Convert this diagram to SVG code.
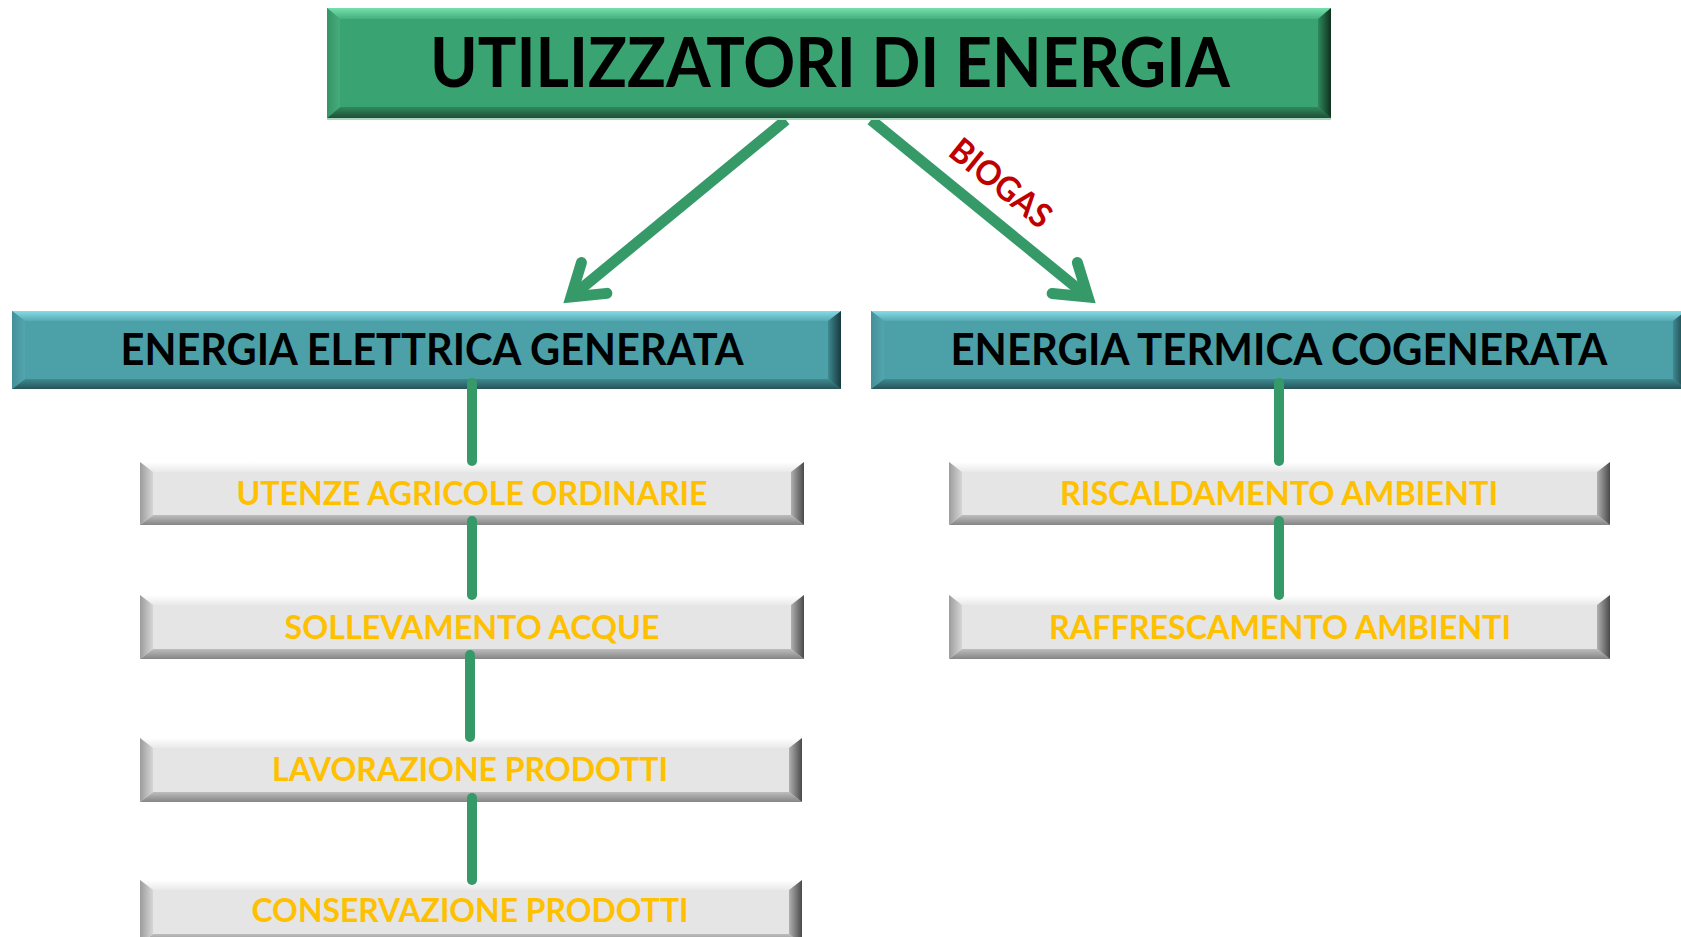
<svg xmlns="http://www.w3.org/2000/svg" width="1681" height="937" viewBox="0 0 1681 937">
<defs>
<style>
text{font-family:Lato,"Open Sans","Liberation Sans",sans-serif;font-weight:700;text-anchor:middle}
.t1{font-size:68px;fill:#000}
.t2{font-size:44px;fill:#000}
.t3{font-size:33px;fill:#FFC000}
.bio{font-size:34px;fill:#C00000}
.gF{fill:#3AA372}.gT{fill:url(#gTop)}.gB{fill:url(#gBot)}.gL{fill:url(#gLeft)}.gR{fill:url(#gRight)}
.bF{fill:#4CA0A8}.bT{fill:url(#bTop)}.bB{fill:url(#bBot)}.bL{fill:url(#bLeft)}.bR{fill:url(#bRight)}
.sF{fill:#E5E5E5}.sT{fill:url(#sTop)}.sB{fill:url(#sBot)}.sL{fill:url(#sLeft)}.sR{fill:url(#sRight)}
.conn{stroke:#359A67;stroke-width:10;stroke-linecap:round;fill:none}
.arrow{stroke:#359A67;stroke-width:11;fill:none;marker-end:url(#ah)}
</style>
<linearGradient id="gTop" x1="0" y1="0" x2="0" y2="1"><stop offset="0" stop-color="#74E0AA"/><stop offset="1" stop-color="#45B07E"/></linearGradient>
<linearGradient id="gBot" x1="0" y1="0" x2="0" y2="1"><stop offset="0" stop-color="#2F8A5E"/><stop offset="1" stop-color="#1F4F37"/></linearGradient>
<linearGradient id="gLeft" x1="0" y1="0" x2="1" y2="0"><stop offset="0" stop-color="#369466"/><stop offset="1" stop-color="#45AC7C"/></linearGradient>
<linearGradient id="gRight" x1="0" y1="0" x2="1" y2="0"><stop offset="0" stop-color="#2E8A5D"/><stop offset="1" stop-color="#10301F"/></linearGradient>
<linearGradient id="bTop" x1="0" y1="0" x2="0" y2="1"><stop offset="0" stop-color="#86DCE6"/><stop offset="1" stop-color="#55AAB3"/></linearGradient>
<linearGradient id="bBot" x1="0" y1="0" x2="0" y2="1"><stop offset="0" stop-color="#3F8A91"/><stop offset="1" stop-color="#25545A"/></linearGradient>
<linearGradient id="bLeft" x1="0" y1="0" x2="1" y2="0"><stop offset="0" stop-color="#44909A"/><stop offset="1" stop-color="#52A6AE"/></linearGradient>
<linearGradient id="bRight" x1="0" y1="0" x2="1" y2="0"><stop offset="0" stop-color="#3F8A91"/><stop offset="1" stop-color="#17393D"/></linearGradient>
<linearGradient id="sTop" x1="0" y1="0" x2="0" y2="1"><stop offset="0" stop-color="#FFFFFF"/><stop offset="1" stop-color="#E9E9E9"/></linearGradient>
<linearGradient id="sBot" x1="0" y1="0" x2="0" y2="1"><stop offset="0" stop-color="#BDBDBD"/><stop offset="1" stop-color="#858585"/></linearGradient>
<linearGradient id="sLeft" x1="0" y1="0" x2="1" y2="0"><stop offset="0" stop-color="#9C9C9C"/><stop offset="1" stop-color="#D6D6D6"/></linearGradient>
<linearGradient id="sRight" x1="0" y1="0" x2="1" y2="0"><stop offset="0" stop-color="#B0B0B0"/><stop offset="1" stop-color="#4A4A4A"/></linearGradient>
<marker id="ah" markerUnits="userSpaceOnUse" viewBox="-40 -30 60 60" markerWidth="60" markerHeight="60" refX="0" refY="0" orient="auto" overflow="visible">
<path d="M-30,-20 L0,0 L-30,20" fill="none" stroke="#359A67" stroke-width="11" stroke-linecap="round" stroke-linejoin="miter"/>
</marker>
</defs>
<rect width="1681" height="937" fill="#FFFFFF"/>

<g id="connectors">
<line class="arrow" x1="786" y1="120" x2="571" y2="297"/>
<line class="arrow" x1="871" y1="120" x2="1088" y2="297"/>
<text class="bio" transform="translate(1001,183) rotate(39)" y="12" textLength="120" lengthAdjust="spacingAndGlyphs">BIOGAS</text>
</g>

<g id="node-utilizzatori">
<rect class="gF" x="327" y="8" width="1004" height="110"/>
<polygon class="gT" points="327,8 1331,8 1318,19 340,19"/>
<polygon class="gB" points="327,118 1331,118 1318,107 340,107"/>
<polygon class="gL" points="327,8 340,19 340,107 327,118"/>
<polygon class="gR" points="1331,8 1318,19 1318,107 1331,118"/>
<line x1="327" y1="119" x2="1331" y2="119" stroke="#A8D9BF" stroke-width="2"/>
<text class="t1" x="830" y="87" textLength="800" lengthAdjust="spacingAndGlyphs">UTILIZZATORI DI ENERGIA</text>
</g>

<g id="node-elettrica">
<rect class="bF" x="12" y="311" width="829" height="78"/>
<polygon class="bT" points="12,311 841,311 828,321 25,321"/>
<polygon class="bB" points="12,389 841,389 828,379 25,379"/>
<polygon class="bL" points="12,311 25,321 25,379 12,389"/>
<polygon class="bR" points="841,311 828,321 828,379 841,389"/>
<text class="t2" x="432" y="365" textLength="623" lengthAdjust="spacingAndGlyphs">ENERGIA ELETTRICA GENERATA</text>
</g>

<g id="node-termica">
<rect class="bF" x="871" y="311" width="815" height="78"/>
<polygon class="bT" points="871,311 1686,311 1673,321 884,321"/>
<polygon class="bB" points="871,389 1686,389 1673,379 884,379"/>
<polygon class="bL" points="871,311 884,321 884,379 871,389"/>
<polygon class="bR" points="1686,311 1673,321 1673,379 1686,389"/>
<text class="t2" x="1279" y="365" textLength="657" lengthAdjust="spacingAndGlyphs">ENERGIA TERMICA COGENERATA</text>
</g>

<g id="node-utenze">
<rect class="sF" x="140" y="462" width="664" height="63"/>
<polygon class="sT" points="140,462 804,462 791,472 153,472"/>
<polygon class="sB" points="140,525 804,525 791,515 153,515"/>
<polygon class="sL" points="140,462 153,472 153,515 140,525"/>
<polygon class="sR" points="804,462 791,472 791,515 804,525"/>
<text class="t3" x="472" y="505" textLength="471" lengthAdjust="spacingAndGlyphs">UTENZE AGRICOLE ORDINARIE</text>
</g>

<g id="node-sollevamento">
<rect class="sF" x="140" y="595" width="664" height="64"/>
<polygon class="sT" points="140,595 804,595 791,605 153,605"/>
<polygon class="sB" points="140,659 804,659 791,649 153,649"/>
<polygon class="sL" points="140,595 153,605 153,649 140,659"/>
<polygon class="sR" points="804,595 791,605 791,649 804,659"/>
<text class="t3" x="472" y="639" textLength="375" lengthAdjust="spacingAndGlyphs">SOLLEVAMENTO ACQUE</text>
</g>

<g id="node-lavorazione">
<rect class="sF" x="140" y="738" width="662" height="64"/>
<polygon class="sT" points="140,738 802,738 789,748 153,748"/>
<polygon class="sB" points="140,802 802,802 789,792 153,792"/>
<polygon class="sL" points="140,738 153,748 153,792 140,802"/>
<polygon class="sR" points="802,738 789,748 789,792 802,802"/>
<text class="t3" x="470" y="781" textLength="396" lengthAdjust="spacingAndGlyphs">LAVORAZIONE PRODOTTI</text>
</g>

<g id="node-conservazione">
<rect class="sF" x="140" y="880" width="662" height="64"/>
<polygon class="sT" points="140,880 802,880 789,890 153,890"/>
<polygon class="sB" points="140,944 802,944 789,934 153,934"/>
<polygon class="sL" points="140,880 153,890 153,934 140,944"/>
<polygon class="sR" points="802,880 789,890 789,934 802,944"/>
<text class="t3" x="470" y="922" textLength="437" lengthAdjust="spacingAndGlyphs">CONSERVAZIONE PRODOTTI</text>
</g>

<g id="node-riscaldamento">
<rect class="sF" x="949" y="462" width="661" height="63"/>
<polygon class="sT" points="949,462 1610,462 1597,472 962,472"/>
<polygon class="sB" points="949,525 1610,525 1597,515 962,515"/>
<polygon class="sL" points="949,462 962,472 962,515 949,525"/>
<polygon class="sR" points="1610,462 1597,472 1597,515 1610,525"/>
<text class="t3" x="1279" y="505" textLength="438" lengthAdjust="spacingAndGlyphs">RISCALDAMENTO AMBIENTI</text>
</g>

<g id="node-raffrescamento">
<rect class="sF" x="949" y="595" width="661" height="64"/>
<polygon class="sT" points="949,595 1610,595 1597,605 962,605"/>
<polygon class="sB" points="949,659 1610,659 1597,649 962,649"/>
<polygon class="sL" points="949,595 962,605 962,649 949,659"/>
<polygon class="sR" points="1610,595 1597,605 1597,649 1610,659"/>
<text class="t3" x="1280" y="639" textLength="462" lengthAdjust="spacingAndGlyphs">RAFFRESCAMENTO AMBIENTI</text>
</g>

<g id="tree-connectors">
<line class="conn" x1="472" y1="383" x2="472" y2="461"/>
<line class="conn" x1="472" y1="521" x2="472" y2="595"/>
<line class="conn" x1="470" y1="655" x2="470" y2="737"/>
<line class="conn" x1="472" y1="798" x2="472" y2="880"/>
<line class="conn" x1="1279" y1="383" x2="1279" y2="461"/>
<line class="conn" x1="1279" y1="521" x2="1279" y2="595"/>
</g>
</svg>
